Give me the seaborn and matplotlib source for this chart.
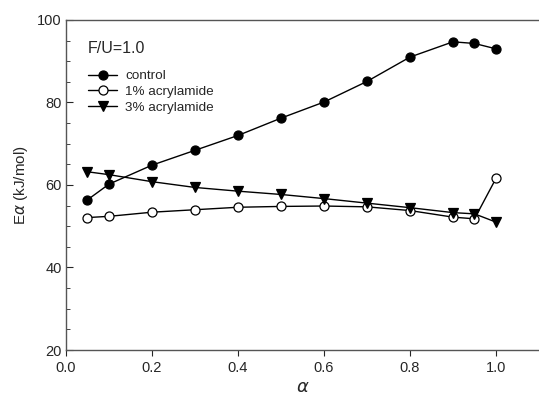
"""
Activation energy vs conversion, F/U=1.0
"""
import numpy as np
import pandas as pd
import matplotlib
matplotlib.use("Agg")
import matplotlib.pyplot as plt
import seaborn as sns
from matplotlib.ticker import MultipleLocator

alpha = [0.05, 0.1, 0.2, 0.3, 0.4, 0.5, 0.6, 0.7, 0.8, 0.9, 0.95, 1.0]
control = [56.4, 60.2, 64.8, 68.4, 72.0, 76.2, 80.1, 85.1, 91.0, 94.7, 94.3, 93.0]
acryl_1 = [52.1, 52.4, 53.4, 54.0, 54.6, 54.8, 54.9, 54.7, 53.8, 52.2, 51.8, 61.6]
acryl_3 = [63.2, 62.5, 60.8, 59.4, 58.5, 57.7, 56.7, 55.6, 54.5, 53.3, 53.0, 51.0]

series = {
    'control': (control, 'o', 'black'),
    '1% acrylamide': (acryl_1, 'o', 'white'),
    '3% acrylamide': (acryl_3, 'v', 'black'),
}

sns.set_style("ticks")
plt.rcParams['font.family'] = ['Liberation Sans', 'DejaVu Sans']

fig = plt.figure(figsize=(5.39, 3.99), dpi=100)
ax = fig.add_axes([0.1224, 0.1228, 0.8776, 0.8272])

for name, (vals, mk, fc) in series.items():
    df = pd.DataFrame({'alpha': alpha, 'E': vals})
    sns.lineplot(data=df, x='alpha', y='E', ax=ax, color='black', lw=1,
                 marker=mk, markersize=6.5, markerfacecolor=fc,
                 markeredgecolor='black', markeredgewidth=0.9, label=name)

ax.set_xlim(0, 1.1)
ax.set_ylim(20, 100)
ax.set_xticks([0.0, 0.2, 0.4, 0.6, 0.8, 1.0])
ax.set_yticks([20, 40, 60, 80, 100])
ax.yaxis.set_minor_locator(MultipleLocator(5))
ax.tick_params(axis='y', which='both', direction='in', labelsize=10.5, pad=3)
ax.tick_params(axis='y', which='major', length=5)
ax.tick_params(axis='y', which='minor', length=3)
ax.tick_params(axis='x', direction='out', length=4, labelsize=10.5, pad=4)
ax.set_xticklabels([f'{t:.1f}' for t in ax.get_xticks()])

for s in ['left', 'bottom', 'top']:
    ax.spines[s].set_color('#555555')
    ax.spines[s].set_linewidth(1)
ax.spines['right'].set_visible(False)

ax.set_ylabel(r'E$\alpha$ (kJ/mol)', fontsize=11, labelpad=5)
ax.set_xlabel(r'$\alpha$', fontsize=13, labelpad=3)

ax.text(0.051, 93.0, 'F/U=1.0', fontsize=11.5, va='center')
ax.legend(loc='upper left', bbox_to_anchor=(0.046, 0.849), frameon=False,
          fontsize=9.7, handlelength=2.2, handletextpad=0.6,
          labelspacing=0.25, borderaxespad=0, borderpad=0)

fig.savefig('out.png', dpi=100)
plt.close()
